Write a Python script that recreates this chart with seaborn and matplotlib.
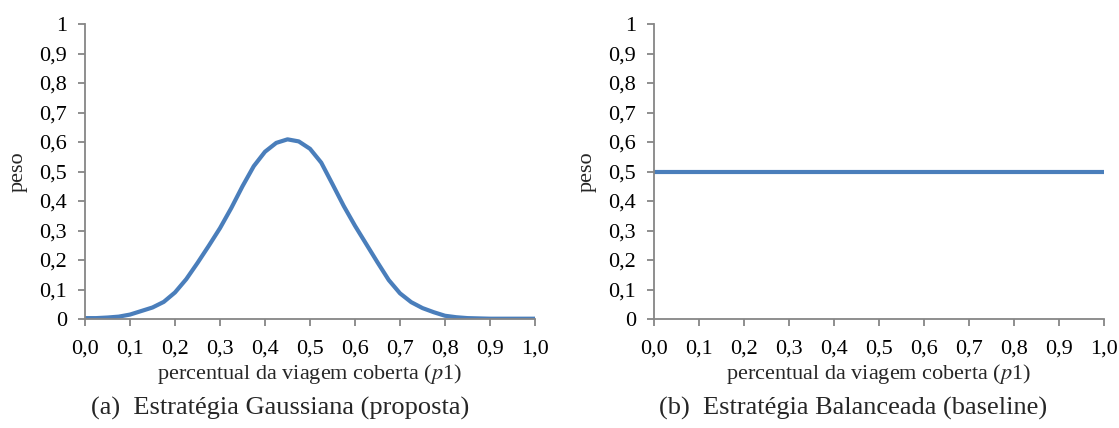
import matplotlib
matplotlib.use("Agg")
import matplotlib.pyplot as plt
import seaborn as sns
import pandas as pd

# ---- data ----
p1_values = [0.000, 0.025, 0.050, 0.075, 0.100, 0.125, 0.150, 0.175, 0.200, 0.225,
             0.250, 0.275, 0.300, 0.325, 0.350, 0.375, 0.400, 0.425, 0.450, 0.475,
             0.500, 0.525, 0.550, 0.575, 0.600, 0.625, 0.650, 0.675, 0.700, 0.725,
             0.750, 0.775, 0.800, 0.825, 0.850, 0.875, 0.900, 0.925, 0.950, 0.975, 1.000]
peso_gaussiana = [0.003, 0.003, 0.005, 0.008, 0.015, 0.027, 0.039, 0.058, 0.090, 0.135,
                  0.190, 0.248, 0.308, 0.376, 0.450, 0.518, 0.567, 0.597, 0.609, 0.602,
                  0.577, 0.530, 0.457, 0.383, 0.316, 0.254, 0.192, 0.132, 0.087, 0.057,
                  0.037, 0.023, 0.011, 0.006, 0.003, 0.002, 0.001, 0.001, 0.001, 0.001, 0.001]
peso_balanceada = [0.5] * len(p1_values)
x_ticks = [0.0, 0.1, 0.2, 0.3, 0.4, 0.5, 0.6, 0.7, 0.8, 0.9, 1.0]
x_tick_labels = ["0,0", "0,1", "0,2", "0,3", "0,4", "0,5", "0,6", "0,7", "0,8", "0,9", "1,0"]
y_ticks = [0.0, 0.1, 0.2, 0.3, 0.4, 0.5, 0.6, 0.7, 0.8, 0.9, 1.0]
y_tick_labels = ["0", "0,1", "0,2", "0,3", "0,4", "0,5", "0,6", "0,7", "0,8", "0,9", "1"]
captions = ["(a)  Estratégia Gaussiana (proposta)", "(b)  Estratégia Balanceada (baseline)"]

sns.set_style("white")
plt.rcParams["font.family"] = ["Liberation Serif", "DejaVu Serif"]
plt.rcParams["mathtext.fontset"] = "stix"

line_color = "#4A7EBB"
axis_color = "#868686"

fig = plt.figure(figsize=(11.19, 4.28), dpi=100)
ax_pos = [
    [85 / 1119, 1 - 319 / 428, 450 / 1119, 295 / 428],
    [654 / 1119, 1 - 319 / 428, 450 / 1119, 295 / 428],
]
caption_x = [280 / 1119, 853 / 1119]
ylabel_x = [18, 587]

df = pd.DataFrame({"p1": p1_values, "g": peso_gaussiana, "b": peso_balanceada})

for i, col in enumerate(["g", "b"]):
    ax = fig.add_axes(ax_pos[i])
    sns.lineplot(data=df, x="p1", y=col, ax=ax, color=line_color, linewidth=3.0,
                 solid_joinstyle="round", solid_capstyle="butt")
    ax.set_xlim(0, 1)
    ax.set_ylim(0, 1)
    ax.set_xticks(x_ticks)
    ax.set_xticklabels(x_tick_labels)
    ax.set_yticks(y_ticks)
    ax.set_yticklabels(y_tick_labels)
    for s in ["top", "right"]:
        ax.spines[s].set_visible(False)
    for s in ["left", "bottom"]:
        ax.spines[s].set_color(axis_color)
        ax.spines[s].set_linewidth(1.3)
    ax.tick_params(axis="both", which="major", direction="out", length=5,
                   width=1.3, color=axis_color, labelsize=16, labelcolor="black",
                   left=True, bottom=True)
    ax.tick_params(axis="x", pad=10)
    ax.tick_params(axis="y", pad=8)
    ax.set_xlabel("percentual da viagem coberta ($p$1)", fontsize=16)
    ax.xaxis.label.set_va("center")
    ax.xaxis.set_label_coords(0.5, -0.185)
    ax.set_ylabel("")
    fig.text(ylabel_x[i] / 1119, 1 - 172 / 428, "peso", rotation=90,
             ha="center", va="center", fontsize=16)
    fig.text(caption_x[i], 1 - 408 / 428, captions[i], ha="center", va="center",
             fontsize=19)
    ax.grid(False)

fig.savefig("out.png", dpi=100)
